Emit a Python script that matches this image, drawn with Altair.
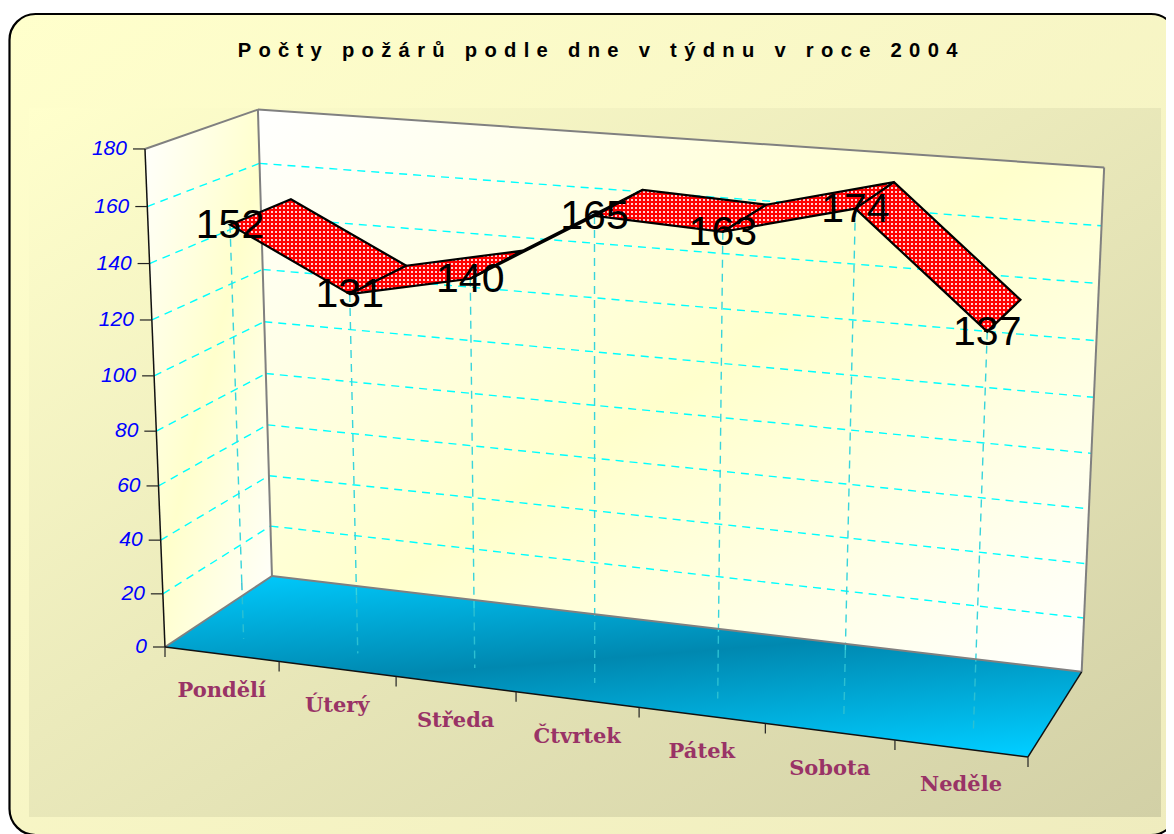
import altair as alt
import pandas as pd

TITLE = "Počty požárů podle dne v týdnu v roce 2004"
DAYS = ["Pondělí", "Úterý", "Středa", "Čtvrtek", "Pátek", "Sobota", "Neděle"]
COUNTS = [152, 131, 140, 165, 163, 174, 137]
Y_TICKS = [0, 20, 40, 60, 80, 100, 120, 140, 160, 180]
Y_MAX = 180
N = len(DAYS)

# Camera of the 3-D box: t along the days, u up the value axis, d into the depth (each 0..1)
CAM = [[774.9, -26.4, 126.4, 165.0],
       [45.1, -504.6, -29.8, 647.0],
       [-0.0857, -0.044, 0.0715, 1.0]]
RIBBON_FRONT, RIBBON_BACK = 0.2, 0.76


def P(t, u, d):
    w = CAM[2][0] * t + CAM[2][1] * u + CAM[2][2] * d + CAM[2][3]
    return ((CAM[0][0] * t + CAM[0][1] * u + CAM[0][2] * d + CAM[0][3]) / w,
            (CAM[1][0] * t + CAM[1][1] * u + CAM[1][2] * d + CAM[1][3]) / w)


# the page allows a 1158 px wide picture: it ends at x = 1166
X = alt.X("x:Q", scale=alt.Scale(domain=[8, 1166], nice=False, zero=False), axis=None)
Y = alt.Y("y:Q", scale=alt.Scale(domain=[834, 8], nice=False, zero=False), axis=None)


def grad(stops, x1=0, y1=0, x2=1, y2=1):
    return {"gradient": "linear", "x1": x1, "y1": y1, "x2": x2, "y2": y2,
            "stops": [{"offset": o, "color": c} for o, c in stops]}


def poly(pts, **mark):
    df = pd.DataFrame({"x": [p[0] for p in pts], "y": [p[1] for p in pts], "o": range(len(pts))})
    return alt.Chart(df).mark_line(interpolate="linear-closed", **mark).encode(x=X, y=Y, order="o:Q")


def lines(segs, **mark):
    df = pd.DataFrame([{"x": a[0], "y": a[1], "x2": b[0], "y2": b[1]} for a, b in segs])
    return alt.Chart(df).mark_rule(**mark).encode(x=X, y=Y, x2="x2:Q", y2="y2:Q")


def box(x, y, x2, y2, **mark):
    df = pd.DataFrame({"x": [x], "y": [y], "x2": [x2], "y2": [y2]})
    return alt.Chart(df).mark_rect(**mark).encode(x=X, y=Y, x2="x2:Q", y2="y2:Q")


def inside(q, px, py):
    hit = False
    for i in range(len(q)):
        ax, ay = q[i]
        bx, by = q[(i + 1) % len(q)]
        if (ay > py) != (by > py) and px < ax + (py - ay) * (bx - ax) / (by - ay):
            hit = not hit
    return hit


layers = []
# page panels
layers.append(box(9.5, 14, 1177, 835, cornerRadius=26, stroke="black", strokeWidth=2.2,
                  fill=grad([(0, "#ffffcc"), (1, "#efecbe")])))
layers.append(box(29, 108, 1161, 817,
                  fill=grad([(0, "#ffffcc"), (1, "#d2d0a6")])))

# box faces
WHITE_YELLOW = [(0, "#ffffff"), (0.5, "#ffffcc"), (1, "#ffffff")]
layers.append(poly([P(0, 0, 0), P(1, 0, 0), P(1, 0, 1), P(0, 0, 1)], stroke=None, strokeWidth=0,
                   fill=grad([(0, "#00ccff"), (0.48, "#0088b0"), (1, "#00ccff")],
                             0.248, -0.097, 0.718, 1.06)))
layers.append(poly([P(0, 0, 0), P(0, 1, 0), P(0, 1, 1), P(0, 0, 1)], strokeWidth=0, fill=grad(WHITE_YELLOW)))
layers.append(poly([P(0, 0, 1), P(0, 1, 1), P(1, 1, 1), P(1, 0, 1)], strokeWidth=0, fill=grad(WHITE_YELLOW)))

# gridlines on the walls
grid_ticks = [v / Y_MAX for v in Y_TICKS[1:-1]]
layers.append(lines([(P(0, u, 0), P(0, u, 1)) for u in grid_ticks] +
                    [(P(0, u, 1), P(1, u, 1)) for u in grid_ticks],
                    color="#00ffff", strokeWidth=1.4, strokeDash=[8, 6]))

# drop lines: brighter over the walls, dimmer over the floor
drops_wall, drops_floor = [], []
for i, c in enumerate(COUNTS):
    t = (i + 0.5) / N
    top, foot = P(t, c / Y_MAX, RIBBON_FRONT), P(t, 0, RIBBON_FRONT)
    edge_y = P(t, 0, 1)[1]
    k = (edge_y - top[1]) / (foot[1] - top[1])
    edge = (top[0] + k * (foot[0] - top[0]), edge_y)
    drops_wall.append((top, edge))
    drops_floor.append((edge, foot))
layers.append(lines(drops_wall, color="#38d4dc", strokeWidth=1.4, strokeDash=[8, 6]))
layers.append(lines(drops_floor, color="#2cc0d2", strokeWidth=1.4, strokeDash=[8, 6]))

# box edges
layers.append(lines([(P(0, 0, 1), P(0, 1, 1)), (P(0, 1, 1), P(1, 1, 1)), (P(1, 1, 1), P(1, 0, 1)),
                     (P(0, 0, 1), P(1, 0, 1)), (P(0, 0, 0), P(0, 0, 1)), (P(0, 1, 0), P(0, 1, 1))],
                    color="#808080", strokeWidth=2))
layers.append(lines([(P(0, 0, 0), P(1, 0, 0)), (P(1, 0, 0), P(1, 0, 1)), (P(0, 0, 0), P(0, 1, 0))],
                    color="#111111", strokeWidth=1.5))

# axis ticks, drawn as offsets from the box edge
ticks = []
for v in Y_TICKS:
    a = P(0, v / Y_MAX, 0)
    ticks.append((a, (a[0] - 12, a[1])))
for i in range(N + 1):
    a = P(i / N, 0, 0)
    ticks.append((a, (a[0], a[1] + 10)))
layers.append(lines(ticks, color="#222222", strokeWidth=1.2))

# ribbon
for i in range(N - 1):
    t0, t1 = (i + 0.5) / N, (i + 1.5) / N
    u0, u1 = COUNTS[i] / Y_MAX, COUNTS[i + 1] / Y_MAX
    q = [P(t0, u0, RIBBON_FRONT), P(t0, u0, RIBBON_BACK), P(t1, u1, RIBBON_BACK), P(t1, u1, RIBBON_FRONT)]
    layers.append(poly(q, fill="#ff0000", strokeWidth=0))
    xs, ys = [p[0] for p in q], [p[1] for p in q]
    dots = [{"x": px, "y": py}
            for px in range(int(min(xs)) // 4 * 4, int(max(xs)) + 1, 4)
            for py in range(int(min(ys)) // 4 * 4, int(max(ys)) + 1, 4)
            if inside(q, px, py)]
    if dots:
        layers.append(alt.Chart(pd.DataFrame(dots)).mark_square(size=4, color="#ffd0d0", opacity=1, strokeWidth=0)
                      .encode(x=X, y=Y))
    layers.append(poly(q, stroke="black", strokeWidth=2.2))

# value labels
vals = pd.DataFrame([{"x": P((i + 0.5) / N, c / Y_MAX, RIBBON_FRONT)[0],
                      "y": P((i + 0.5) / N, c / Y_MAX, RIBBON_FRONT)[1], "t": str(c)}
                     for i, c in enumerate(COUNTS)])
layers.append(alt.Chart(vals).mark_text(font="Liberation Sans", fontSize=41, color="black", align="center",
                                        baseline="middle", dy=1).encode(x=X, y=Y, text="t:N"))

# category labels
cats = pd.DataFrame([{"x": P((i + 0.5) / N, 0, 0)[0], "y": P((i + 0.5) / N, 0, 0)[1], "t": d}
                     for i, d in enumerate(DAYS)])
layers.append(alt.Chart(cats).mark_text(font="DejaVu Serif", fontWeight="bold", fontSize=21, color="#993366",
                                        align="center", baseline="middle", dy=37).encode(x=X, y=Y, text="t:N"))

# value axis labels
ylab = pd.DataFrame([{"x": P(0, v / Y_MAX, 0)[0], "y": P(0, v / Y_MAX, 0)[1], "t": str(v)} for v in Y_TICKS])
layers.append(alt.Chart(ylab).mark_text(font="Liberation Sans", fontStyle="italic", fontSize=21, color="#0000ff",
                                        align="right", baseline="middle", dx=-18).encode(x=X, y=Y, text="t:N"))

# title
spaced = "\u00a0\u200a".join(TITLE.replace(" ", "\u00a0"))
layers.append(alt.Chart(pd.DataFrame({"x": [597.5], "y": [50.5], "t": [spaced]}))
              .mark_text(font="Liberation Sans", fontWeight="bold", fontSize=20.2, color="black",
                         align="center", baseline="middle").encode(x=X, y=Y, text="t:N"))

chart = alt.layer(*layers).properties(width=1158, height=826, padding=0,
                                      autosize=alt.AutoSizeParams(type="none"),
                                      background="white").configure_view(strokeWidth=0)
chart.save("out.html", embed_options={"renderer": "svg", "actions": False})
